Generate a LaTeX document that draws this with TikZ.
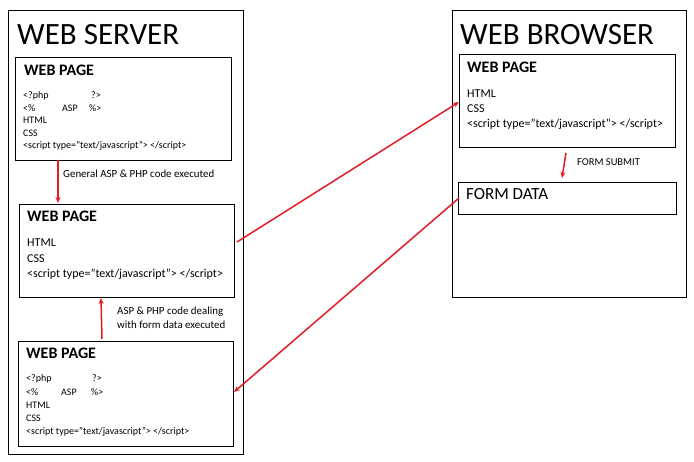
\documentclass[tikz,border=0pt]{standalone}
\usepackage{fontspec}
\setmainfont{Carlito}
\usetikzlibrary{arrows.meta}
\definecolor{arrowred}{RGB}{226,28,36}
\tikzset{
  frame/.style={draw=black, line width=0.8pt},
  txt/.style={anchor=base west, inner sep=0pt, font=\fontsize{#1}{#1}\selectfont},
  bigtitle/.style={txt=31},
  pagetitle/.style={anchor=base west, inner sep=0pt, font=\fontsize{16}{16}\selectfont\bfseries},
  redarrow/.style={draw=arrowred, line width=1.5pt, -{Stealth[length=6pt,width=5pt]}},
}
\begin{document}
\begin{tikzpicture}[x=1pt,y=-1pt]
\useasboundingbox (0,0) rectangle (694,462);
% outer boxes
\draw[frame] (8,10) rectangle (243,454);
\draw[frame] (452,10) rectangle (686,297);
\node[bigtitle] (st) at (17,45) {WEB SERVER};
\node[bigtitle] (bt) at (460,45) {WEB BROWSER};
% server page A
\node[frame, minimum width=216pt, minimum height=103pt, anchor=north west, inner sep=0pt] (A) at (15,57) {};
\node[pagetitle] (At) at (24,76) {WEB PAGE};
\node[txt=10] (A1) at (23,99) {<?php};
\node[txt=10] (A1b) at (91,99) {?>};
\node[txt=10] (A2) at (23,111.5) {<\%};
\node[txt=10] (A2b) at (62,111.5) {ASP};
\node[txt=10] (A2c) at (89,111.5) {\%>};
\node[txt=10] (A3) at (23,124) {HTML};
\node[txt=10] (A4) at (23,136.5) {CSS};
\node[txt=10] (A5) at (23,149) {<script type=”text/javascript”> </script>};
% server page B
\node[frame, minimum width=215pt, minimum height=93pt, anchor=north west, inner sep=0pt] (B) at (19,204) {};
\node[pagetitle] (Bt) at (27,222) {WEB PAGE};
\node[txt=12] (B1) at (27,247) {HTML};
\node[txt=12] (B2) at (27,262.5) {CSS};
\node[txt=12] (B3) at (27,278) {<script type=”text/javascript”> </script>};
% server page C
\node[frame, minimum width=215pt, minimum height=105pt, anchor=north west, inner sep=0pt] (C) at (18,341) {};
\node[pagetitle] (Ct) at (26,359) {WEB PAGE};
\node[txt=10] (C1) at (26,382) {<?php};
\node[txt=10] (C1b) at (92,382) {?>};
\node[txt=10] (C2) at (26,395.5) {<\%};
\node[txt=10] (C2b) at (61,395.5) {ASP};
\node[txt=10] (C2c) at (91,395.5) {\%>};
\node[txt=10] (C3) at (26,409) {HTML};
\node[txt=10] (C4) at (26,422) {CSS};
\node[txt=10] (C5) at (26,435) {<script type=”text/javascript”> </script>};
% browser page
\node[frame, minimum width=216pt, minimum height=93pt, anchor=north west, inner sep=0pt] (D) at (459,54) {};
\node[pagetitle] (Dt) at (467,73) {WEB PAGE};
\node[txt=12] (D1) at (467,98) {HTML};
\node[txt=12] (D2) at (467,113) {CSS};
\node[txt=12] (D3) at (467,128) {<script type=”text/javascript”> </script>};
% form data
\node[frame, minimum width=218pt, minimum height=32pt, anchor=north west, inner sep=0pt] (F) at (458,182) {};
\node[txt=17] (Ft) at (466,200) {FORM DATA};
% labels
\node[txt=10.9] (L1) at (63,178) {General ASP \& PHP code executed};
\node[txt=10.9] (L2) at (117,315) {ASP \& PHP code dealing};
\node[txt=10.9] (L3) at (117,329) {with form data executed};
\node[txt=10.5] (L4) at (577,166) {FORM SUBMIT};
% arrows
\coordinate (a1) at (58,160);
\coordinate (a2) at (58,203);
\draw[redarrow] (a1) -- (a2);
\coordinate (c1) at (102,339);
\coordinate (c2) at (101,298);
\draw[redarrow] (c1) -- (c2);
\coordinate (b1) at (237,242);
\coordinate (d1) at (459,102);
\draw[redarrow] (b1) -- (d1);
\coordinate (f1) at (459,198);
\coordinate (e1) at (234,392);
\draw[redarrow] (f1) -- (e1);
\coordinate (s1) at (566,153);
\coordinate (s2) at (562,178);
\draw[redarrow] (s1) -- (s2);
\end{tikzpicture}
\end{document}
